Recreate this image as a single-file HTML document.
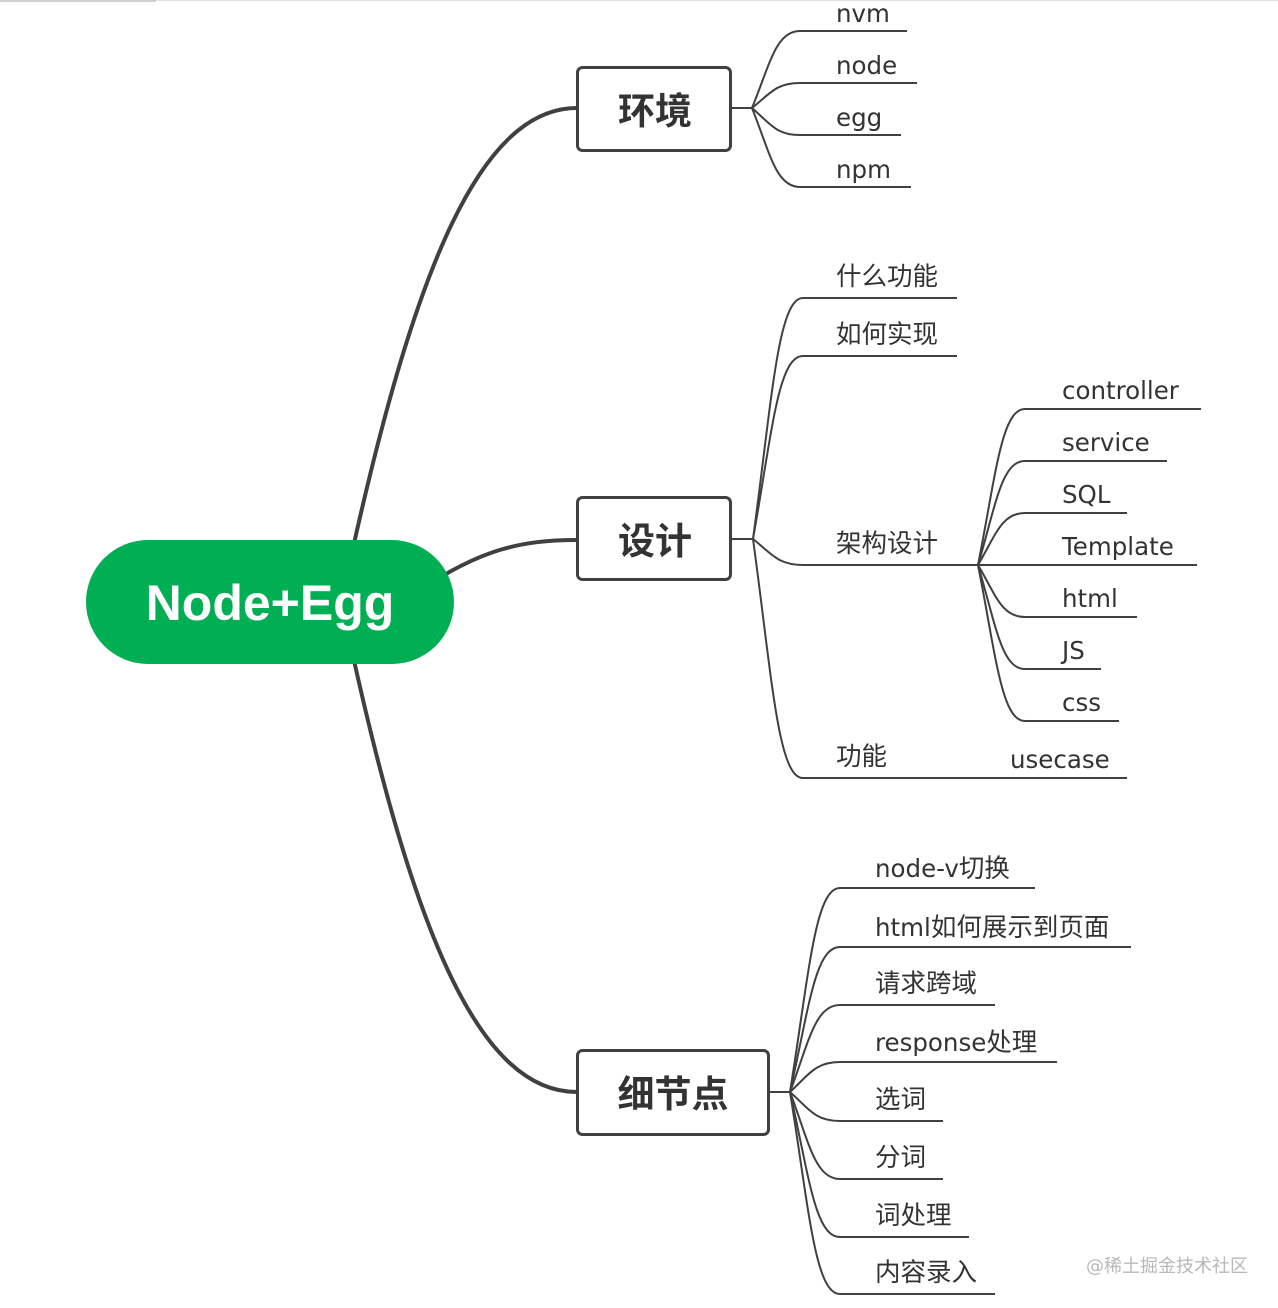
<!DOCTYPE html>
<html>
<head>
<meta charset="utf-8">
<style>
  html,body{margin:0;padding:0;background:#fff;}
  body{width:1278px;height:1308px;overflow:hidden;position:relative;}
  svg{position:absolute;left:0;top:0;}
  .t{font-family:"DejaVu Sans","Noto Sans CJK SC",sans-serif;font-size:24.5px;fill:#333;}
  .c{font-family:"Noto Sans CJK SC","DejaVu Sans",sans-serif;font-size:25.5px;fill:#333;}
  .b{font-family:"Noto Sans CJK SC",sans-serif;font-size:37px;font-weight:bold;fill:#333;}
</style>
</head>
<body>
<svg width="1278" height="1308" viewBox="0 0 1278 1308" xmlns="http://www.w3.org/2000/svg">
  <!-- top border -->
  <rect x="0" y="0" width="1278" height="1.2" fill="#e6e6e6"/>
  <rect x="0" y="0" width="156" height="2" fill="#cfcfcf"/>

  <!-- main connectors -->
  <g fill="none" stroke="#404040" stroke-width="4" stroke-linecap="round">
    <path d="M353,548 C415,270 480,108 577,108"/>
    <path d="M353,656 C415,935 480,1092 577,1092"/>
    <path d="M420,590 C480,550 520,540 577,540"/>
  </g>

  <!-- root -->
  <rect x="86" y="540" width="368" height="124" rx="62" ry="62" fill="#00ae53"/>
  <text x="270" y="620" text-anchor="middle" font-family="'Liberation Sans',sans-serif" font-weight="bold" font-size="50" fill="#fff">Node+Egg</text>

  <!-- boxes -->
  <g fill="#fff" stroke="#404040" stroke-width="3">
    <rect x="577.5" y="67.5" width="153" height="83" rx="5"/>
    <rect x="577.5" y="497.5" width="153" height="82" rx="5"/>
    <rect x="577.5" y="1050.5" width="191" height="84" rx="5"/>
  </g>
  <text class="b" x="655" y="124" text-anchor="middle">环境</text>
  <text class="b" x="655" y="554" text-anchor="middle">设计</text>
  <text class="b" x="673" y="1107" text-anchor="middle">细节点</text>

  <!-- child connectors -->
  <g fill="none" stroke="#404040" stroke-width="2">
    <!-- 环境 -->
    <path d="M731,108 L752,108"/>
    <path d="M752,108 C770.2,63.3 776,31 800,31 L907,31"/>
    <path d="M752,108 C770.2,93.5 776,83 800,83 L917,83"/>
    <path d="M752,108 C770.2,123.7 776,135 800,135 L901,135"/>
    <path d="M752,108 C770.2,153.8 776,187 800,187 L911,187"/>

    <!-- 设计 -->
    <path d="M731,539 L753,539"/>
    <path d="M753,539 C772,399.2 778,298 803,298 L957,298"/>
    <path d="M753,539 C772,432.9 778,356 803,356 L957,356"/>
    <path d="M753,539 C772,554.1 778,565 803,565 L1197,565"/>
    <path d="M753,539 C772,677.6 778,778 803,778 L1127,778"/>

    <!-- 架构设计 -->
    <path d="M978,565 C995.9,474.5 1001.5,409 1025,409 L1201,409"/>
    <path d="M978,565 C995.9,504.7 1001.5,461 1025,461 L1167,461"/>
    <path d="M978,565 C995.9,534.8 1001.5,513 1025,513 L1127,513"/>
    <path d="M978,565 C995.9,595.2 1001.5,617 1025,617 L1137,617"/>
    <path d="M978,565 C995.9,625.3 1001.5,669 1025,669 L1101,669"/>
    <path d="M978,565 C995.9,655.5 1001.5,721 1025,721 L1119,721"/>

    <!-- 细节点 -->
    <path d="M769,1092 L790,1092"/>
    <path d="M790,1092 C809,973.7 815,888 840,888 L1035,888"/>
    <path d="M790,1092 C809,1007.9 815,947 840,947 L1131,947"/>
    <path d="M790,1092 C809,1041.5 815,1005 840,1005 L995,1005"/>
    <path d="M790,1092 C809,1074.6 815,1062 840,1062 L1057,1062"/>
    <path d="M790,1092 C809,1108.8 815,1121 840,1121 L943,1121"/>
    <path d="M790,1092 C809,1142.5 815,1179 840,1179 L943,1179"/>
    <path d="M790,1092 C809,1176.1 815,1237 840,1237 L969,1237"/>
    <path d="M790,1092 C809,1209.2 815,1294 840,1294 L995,1294"/>
  </g>

  <!-- labels: 环境 -->
  <text class="t" x="836" y="22">nvm</text>
  <text class="t" x="836" y="74">node</text>
  <text class="t" x="836" y="126">egg</text>
  <text class="t" x="836" y="178">npm</text>

  <!-- labels: 设计 -->
  <text class="c" x="836" y="285">什么功能</text>
  <text class="c" x="836" y="343">如何实现</text>
  <text class="c" x="836" y="552">架构设计</text>
  <text class="c" x="836" y="765">功能</text>
  <text class="t" x="1010" y="768">usecase</text>

  <text class="t" x="1062" y="399">controller</text>
  <text class="t" x="1062" y="451">service</text>
  <text class="t" x="1062" y="503">SQL</text>
  <text class="t" x="1062" y="555">Template</text>
  <text class="t" x="1062" y="607">html</text>
  <text class="t" x="1062" y="659">JS</text>
  <text class="t" x="1062" y="711">css</text>

  <!-- labels: 细节点 -->
  <text class="t" x="875" y="877">node-v<tspan class="c">切换</tspan></text>
  <text class="t" x="875" y="936">html<tspan class="c">如何展示到页面</tspan></text>
  <text class="c" x="875" y="992">请求跨域</text>
  <text class="t" x="875" y="1051">response<tspan class="c">处理</tspan></text>
  <text class="c" x="875" y="1108">选词</text>
  <text class="c" x="875" y="1166">分词</text>
  <text class="c" x="875" y="1224">词处理</text>
  <text class="c" x="875" y="1281">内容录入</text>

  <!-- watermark -->
  <text x="1086" y="1272" font-family="'DejaVu Sans','Noto Sans CJK SC',sans-serif" font-size="18" fill="#b8b8b8">@<tspan font-family="'Noto Sans CJK SC',sans-serif">稀土掘金技术社区</tspan></text>
</svg>
</body>
</html>
